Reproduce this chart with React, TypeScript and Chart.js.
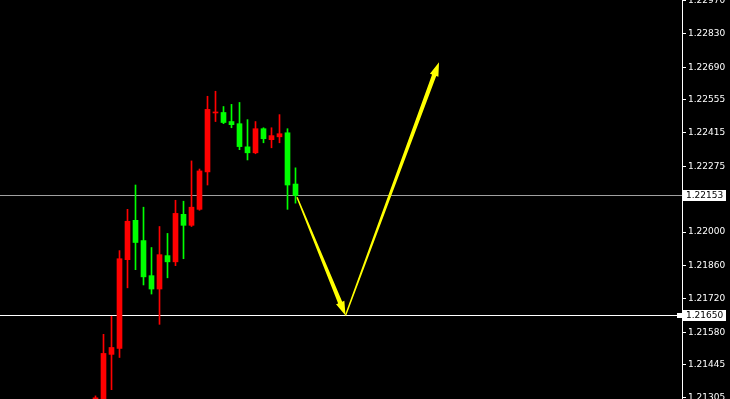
import React, { useEffect, useRef } from 'react';
import { Chart, registerables } from 'chart.js';

Chart.register(...registerables);

// ---- data ----
const candleIndex = [0, 1, 2, 3, 4, 5, 6, 7, 8, 9, 10, 11, 12, 13, 14, 15, 16, 17, 18, 19, 20, 21, 22, 23, 24, 25];
const opens = [1.2128, 1.21284, 1.21487, 1.21512, 1.21884, 1.22049, 1.21964, 1.21817, 1.21761, 1.21901, 1.21875, 1.22074, 1.22028, 1.22095, 1.22252, 1.22499, 1.22501, 1.22463, 1.22454, 1.22357, 1.22332, 1.22433, 1.22387, 1.22399, 1.22416, 1.22201];
const highs = [1.21313, 1.21571, 1.21647, 1.21922, 1.22095, 1.22197, 1.22104, 1.21935, 1.22023, 1.21994, 1.22133, 1.22129, 1.22298, 1.22264, 1.22569, 1.2259, 1.22526, 1.22535, 1.22543, 1.22471, 1.22463, 1.22437, 1.22437, 1.22492, 1.22433, 1.22269];
const lows = [1.21267, 1.21225, 1.21339, 1.21474, 1.21766, 1.21842, 1.21778, 1.2174, 1.21613, 1.21808, 1.21859, 1.21888, 1.22023, 1.22091, 1.22197, 1.22463, 1.22454, 1.22437, 1.22345, 1.22302, 1.22328, 1.22374, 1.22353, 1.22374, 1.22095, 1.22121];
const closes = [1.21305, 1.21491, 1.21516, 1.21888, 1.22045, 1.21956, 1.21812, 1.21761, 1.21905, 1.21875, 1.22078, 1.22028, 1.22104, 1.22256, 1.22514, 1.22503, 1.22459, 1.2245, 1.22358, 1.22332, 1.22433, 1.22391, 1.22404, 1.22412, 1.22197, 1.22153];

const yTicks = [1.2297, 1.2283, 1.2269, 1.22555, 1.22415, 1.22275, 1.22, 1.2186, 1.2172, 1.2158, 1.21445, 1.21305];

const priceLines = [1.22153, 1.2165];
const priceLineColors = ['#a0a0a0', '#ffffff'];
const priceLineMarker = [false, true];

const arrowFromX = [25.19, 31.25];
const arrowFromY = [1.22146, 1.2165];
const arrowToX = [31.25, 42.94];
const arrowToY = [1.2165, 1.22712];

const X_MIN = -11.9375;
const X_MAX = 73.3125;
const Y_MIN = 1.213;
const Y_MAX = 1.229725;

const BULL = '#ff0000';
const BEAR = '#00ff00';
const FONT = "'DejaVu Sans', sans-serif";

function drawArrow(ctx: CanvasRenderingContext2D, x1: number, y1: number, x2: number, y2: number) {
  const dx = x2 - x1;
  const dy = y2 - y1;
  const len = Math.hypot(dx, dy);
  const ux = dx / len;
  const uy = dy / len;
  const nx = -uy;
  const ny = ux;
  const headLen = 14;
  const headW = 4.5;
  const w0 = 0.7;
  const w1 = 2.2;
  const bx = x2 - ux * headLen;
  const by = y2 - uy * headLen;
  ctx.beginPath();
  ctx.moveTo(x1 + nx * w0, y1 + ny * w0);
  ctx.lineTo(bx + nx * w1, by + ny * w1);
  ctx.lineTo(bx + nx * headW, by + ny * headW);
  ctx.lineTo(x2, y2);
  ctx.lineTo(bx - nx * headW, by - ny * headW);
  ctx.lineTo(bx - nx * w1, by - ny * w1);
  ctx.lineTo(x1 - nx * w0, y1 - ny * w0);
  ctx.closePath();
  ctx.fill();
}

const bgPlugin = {
  id: 'bgPlugin',
  beforeDraw(chart: any) {
    const ctx = chart.ctx;
    ctx.save();
    ctx.fillStyle = '#000000';
    ctx.fillRect(0, 0, chart.width, chart.height);
    ctx.restore();
  },
};

const overlayPlugin = {
  id: 'overlayPlugin',
  afterDatasetsDraw(chart: any) {
    const ctx = chart.ctx as CanvasRenderingContext2D;
    const xs = chart.scales.x;
    const ys = chart.scales.y;
    ctx.save();
    ctx.fillStyle = '#ffff00';
    for (let i = 0; i < arrowFromX.length; i++) {
      drawArrow(
        ctx,
        xs.getPixelForValue(arrowFromX[i]),
        ys.getPixelForValue(arrowFromY[i]),
        xs.getPixelForValue(arrowToX[i]),
        ys.getPixelForValue(arrowToY[i])
      );
    }
    ctx.restore();
  },
  afterDraw(chart: any) {
    const ctx = chart.ctx as CanvasRenderingContext2D;
    const ys = chart.scales.y;
    const right = chart.chartArea.right;
    ctx.save();
    for (let i = 0; i < priceLines.length; i++) {
      const y = Math.floor(ys.getPixelForValue(priceLines[i]));
      if (priceLineMarker[i]) {
        ctx.fillStyle = priceLineColors[i];
        ctx.fillRect(right - 5, y - 2, 5, 5);
      }
      ctx.fillStyle = '#ffffff';
      ctx.fillRect(right + 1, y - 5, 43, 11);
      ctx.fillStyle = '#000000';
      ctx.font = `9px ${FONT}`;
      ctx.textBaseline = 'middle';
      ctx.textAlign = 'left';
      ctx.fillText(priceLines[i].toFixed(5), right + 4, y + 0.5);
    }
    ctx.restore();
  },
};

export default function App() {
  const canvasRef = useRef<HTMLCanvasElement | null>(null);

  useEffect(() => {
    document.body.style.margin = '0';
    document.body.style.background = '#000';
    const canvas = canvasRef.current;
    if (!canvas) return;

    const colors = candleIndex.map((_, i) => (closes[i] >= opens[i] ? BULL : BEAR));

    const lineSets = priceLines.map((p, i) => ({
      type: 'line' as const,
      data: [
        { x: X_MIN, y: p },
        { x: X_MAX, y: p },
      ],
      borderColor: priceLineColors[i],
      borderWidth: 1,
      pointRadius: 0,
      order: 3,
    }));

    const chart = new Chart(canvas, {
      type: 'bar',
      data: {
        datasets: [
          {
            type: 'bar',
            data: candleIndex.map((x, i) => ({ x, y: [opens[i], closes[i]] })) as any,
            backgroundColor: colors,
            borderWidth: 0,
            barThickness: 5,
            minBarLength: 1,
            grouped: false,
            order: 1,
          } as any,
          {
            type: 'bar',
            data: candleIndex.map((x, i) => ({ x, y: [lows[i], highs[i]] })) as any,
            backgroundColor: colors,
            borderWidth: 0,
            barThickness: 1,
            grouped: false,
            order: 2,
          } as any,
          ...(lineSets as any),
        ],
      },
      options: {
        animation: false,
        responsive: false,
        devicePixelRatio: 1,
        layout: { padding: 0 },
        plugins: {
          legend: { display: false },
          tooltip: { enabled: false },
        },
        scales: {
          x: {
            type: 'linear',
            display: false,
            min: X_MIN,
            max: X_MAX,
            offset: false,
          },
          y: {
            type: 'linear',
            position: 'right',
            min: Y_MIN,
            max: Y_MAX,
            afterBuildTicks: (scale: any) => {
              scale.ticks = yTicks.map((v) => ({ value: v }));
            },
            afterFit: (scale: any) => {
              scale.width = 48;
              scale.paddingTop = 0;
              scale.paddingBottom = 0;
            },
            border: { display: true, color: '#ffffff', width: 1 },
            grid: {
              display: true,
              drawOnChartArea: false,
              drawTicks: true,
              tickLength: 4,
              tickColor: '#ffffff',
            },
            ticks: {
              color: '#ffffff',
              padding: 2,
              font: { family: FONT, size: 9 },
              callback: (v: any) => Number(v).toFixed(5),
            },
          },
        },
      } as any,
      plugins: [bgPlugin, overlayPlugin],
    });

    return () => {
      chart.destroy();
    };
  }, []);

  return (
    <div style={{ position: 'absolute', left: 0, top: 0, width: 730, height: 399, background: '#000' }}>
      <canvas ref={canvasRef} width={730} height={399} style={{ display: 'block', width: 730, height: 399 }} />
    </div>
  );
}
